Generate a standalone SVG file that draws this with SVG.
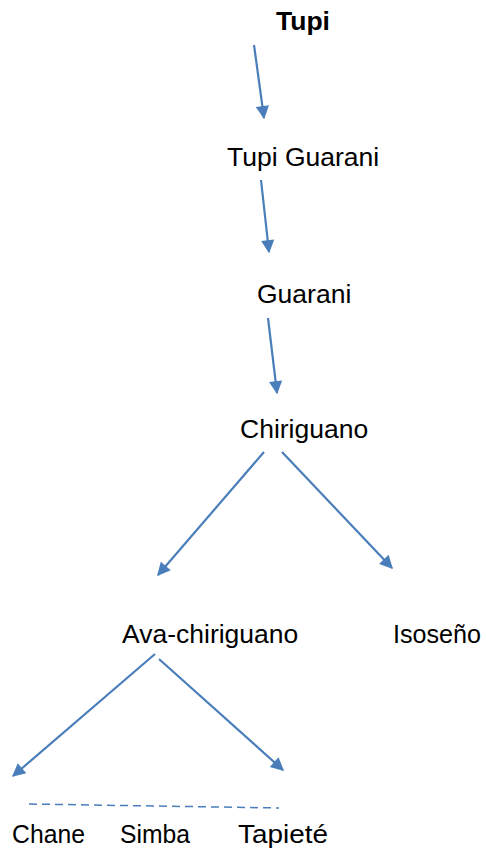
<svg xmlns="http://www.w3.org/2000/svg" width="486" height="852" viewBox="0 0 486 852">
  <style>
    text { font-family: "Liberation Sans", Arial, sans-serif; font-size: 26.5px; fill: #000; }
    .bold { font-weight: bold; }
    .link { stroke: #4a7ebb; stroke-width: 2.2; fill: none; marker-end: url(#head); }
    .dash { stroke: #4a7ebb; stroke-width: 1.5; fill: none; stroke-dasharray: 8 5; }
  </style>
  <defs>
    <marker id="head" viewBox="0 0 10 10" refX="9" refY="5" markerWidth="7" markerHeight="6" markerUnits="strokeWidth" orient="auto">
      <path d="M0,0 L10,5 L0,10 z" fill="#4a7ebb"/>
    </marker>
  </defs>
  <rect width="486" height="852" fill="#fff"/>

  <g id="connectors">
    <line class="link" x1="254" y1="45" x2="264" y2="118"/>
    <line class="link" x1="261" y1="180" x2="269" y2="252"/>
    <line class="link" x1="268" y1="318" x2="277" y2="393"/>
    <line class="link" x1="264" y1="452" x2="158" y2="575"/>
    <line class="link" x1="282" y1="452" x2="392" y2="568"/>
    <line class="link" x1="155" y1="654" x2="13" y2="776"/>
    <line class="link" x1="159" y1="659" x2="283" y2="770"/>
    <line class="dash" x1="29" y1="804" x2="279" y2="808"/>
  </g>

  <g id="tupi"><text class="bold" x="303" y="30" text-anchor="middle">Tupi</text></g>
  <g id="tupi-guarani"><text x="227" y="166">Tupi Guarani</text></g>
  <g id="guarani"><text x="257" y="303">Guarani</text></g>
  <g id="chiriguano"><text x="240" y="438">Chiriguano</text></g>
  <g id="ava-chiriguano"><text x="122" y="643">Ava-chiriguano</text></g>
  <g id="isoseno"><text x="393" y="643" textLength="88" lengthAdjust="spacingAndGlyphs">Isoseño</text></g>
  <g id="chane"><text x="12" y="843" textLength="73" lengthAdjust="spacingAndGlyphs">Chane</text></g>
  <g id="simba"><text x="120" y="843" textLength="70" lengthAdjust="spacingAndGlyphs">Simba</text></g>
  <g id="tapiete"><text x="238" y="843" textLength="90" lengthAdjust="spacingAndGlyphs">Tapieté</text></g>
</svg>
